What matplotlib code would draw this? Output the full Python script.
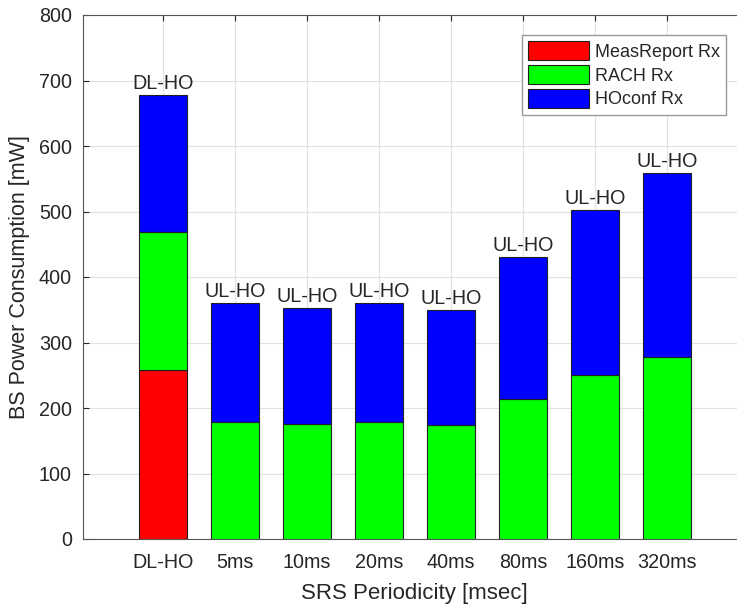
import numpy as np
import matplotlib
matplotlib.use('Agg')
import matplotlib.pyplot as plt

plt.rcParams['font.family'] = ['Liberation Sans', 'DejaVu Sans']

categories = ['DL-HO', '5ms', '10ms', '20ms', '40ms', '80ms', '160ms', '320ms']
meas_report = [258, 0, 0, 0, 0, 0, 0, 0]
rach = [210, 179, 175, 178, 174, 214, 250, 278]
hoconf = [210, 181, 177, 182, 175, 216, 252, 281]
bar_labels = ['DL-HO', 'UL-HO', 'UL-HO', 'UL-HO', 'UL-HO', 'UL-HO', 'UL-HO', 'UL-HO']

grey = '#262626'
fig = plt.figure(figsize=(7.37, 6.06), dpi=100)
ax = fig.add_axes([83 / 737, 67 / 606, 663 / 737, 524 / 606])

x = np.arange(len(categories))
w = 0.67
meas_report = np.array(meas_report)
rach = np.array(rach)
hoconf = np.array(hoconf)

ax.bar(x, meas_report, w, color='#ff0000', edgecolor='#202020', linewidth=0.8,
       label='MeasReport Rx', zorder=3)
ax.bar(x, rach, w, bottom=meas_report, color='#00ff00', edgecolor='#202020',
       linewidth=0.8, label='RACH Rx', zorder=3)
ax.bar(x, hoconf, w, bottom=meas_report + rach, color='#0000ff',
       edgecolor='#202020', linewidth=0.8, label='HOconf Rx', zorder=3)

totals = meas_report + rach + hoconf
for xi, t, lab in zip(x, totals, bar_labels):
    ax.text(xi, t + 3, lab, ha='center', va='bottom', fontsize=14.2, color=grey)

ax.set_xlim(-1.114, 8.1)
ax.set_ylim(0, 800)
ax.set_yticks(np.arange(0, 801, 100))
ax.set_xticks(x)
ax.set_xticklabels(categories)
ax.tick_params(direction='in', colors=grey, labelsize=14.2, length=4,
               top=True)
ax.tick_params(axis='x', pad=10)
ax.tick_params(axis='y', pad=8)
ax.grid(True, color='#e2e2e2', linewidth=0.8, zorder=0)
ax.set_axisbelow(True)
for s in ax.spines.values():
    s.set_color('#555555')
    s.set_linewidth(0.8)
ax.spines['right'].set_visible(False)

ax.set_ylabel('BS Power Consumption [mW]', fontsize=15.5, color=grey, labelpad=6)
ax.set_xlabel('SRS Periodicity [msec]', fontsize=16, color=grey, labelpad=8)

leg = ax.legend(loc='upper right', bbox_to_anchor=((726 - 83) / 663, 1 - 20 / 524),
                borderaxespad=0,
                fontsize=13, handlelength=3.4, handleheight=1.2,
                fancybox=False, framealpha=1, edgecolor='#999999',
                borderpad=0.35, labelspacing=0.25, handletextpad=0.3)
for t in leg.get_texts():
    t.set_color(grey)

fig.savefig('out.png', dpi=100)
